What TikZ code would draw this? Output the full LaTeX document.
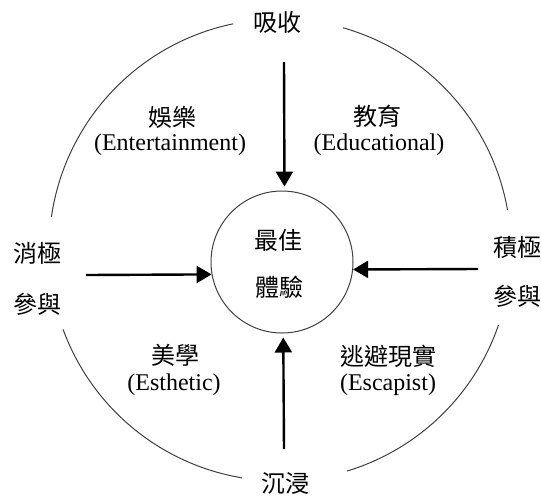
\documentclass[tikz,border=0pt]{standalone}
\usepackage{fontspec}
\setmainfont{Liberation Serif}
\newfontfamily\cjk{Noto Sans CJK TC}
\usetikzlibrary{arrows.meta}
\begin{document}
\begin{tikzpicture}[x=0.5pt,y=0.5pt,
  ring/.style={draw=black!75,line width=0.5pt},
  flow/.style={draw=black,line width=1.2pt,-{Triangle[length=7.5pt,width=8.5pt]}},
  cjklab/.style={inner sep=0pt,font=\cjk\fontsize{12}{14}\selectfont},
  latlab/.style={inner sep=0pt,font=\fontsize{12}{14}\selectfont}]
\useasboundingbox (0,0) rectangle (541,495);
\coordinate (O) at (280,245);
% outer ring in four arcs
\draw[ring] (O) ++(101.7:231) arc[start angle=101.7,end angle=171.8,radius=231];
\draw[ring] (O) ++(10:231) arc[start angle=10,end angle=74.2,radius=231];
\draw[ring] (O) ++(-73.1:231) arc[start angle=-73.1,end angle=-19,radius=231];
\draw[ring] (O) ++(200.1:231) arc[start angle=200.1,end angle=260.5,radius=231];
% inner circle
\node[ring,circle,minimum size=71pt,inner sep=0pt] (core) at (282,233) {};
\node[cjklab] (best) at (278,255) {最佳};
\node[cjklab] (exp) at (279,208) {體驗};
% axis labels
\node[cjklab] (absorb) at (277,473) {吸收};
\node[cjklab] (immerse) at (285,12) {沉浸};
\node[cjklab] (pas1) at (37,242) {消極};
\node[cjklab] (pas2) at (37,191) {參與};
\node[cjklab] (act1) at (517,248) {積極};
\node[cjklab] (act2) at (517,199) {參與};
% quadrant labels
\node[cjklab] (ent1) at (172,378) {娛樂};
\node[latlab] (ent2) at (170,350) {(Entertainment)};
\node[cjklab] (edu1) at (377,379) {教育};
\node[latlab] (edu2) at (379,350) {(Educational)};
\node[cjklab] (est1) at (175,140) {美學};
\node[latlab] (est2) at (174,110) {(Esthetic)};
\node[cjklab] (esc1) at (388,139) {逃避現實};
\node[latlab] (esc2) at (388,110) {(Escapist)};
% arrows
\coordinate (tstart) at (284,433);
\coordinate (bstart) at (284,46);
\coordinate (lstart) at (86,220);
\coordinate (rstart) at (478,226);
\draw[flow,shorten >=2pt] (tstart) -- (core.88.39);
\draw[flow,shorten >=2pt] (bstart) -- (core.271.61);
\draw[flow] (lstart) -- (core.190.5);
\draw[flow] (rstart) -- (core.354.34);
\end{tikzpicture}
\end{document}
